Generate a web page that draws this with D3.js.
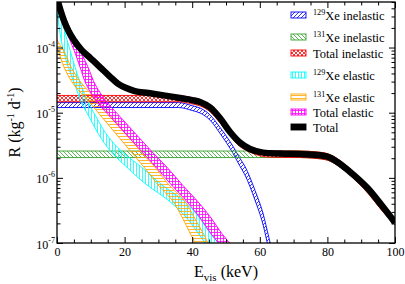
<!DOCTYPE html>
<html>
<head>
<meta charset="utf-8">
<script src="https://cdn.jsdelivr.net/npm/d3@7"></script>
<style>
body { margin: 0; background: #fff; }
text { font-family: "Liberation Serif", "Times New Roman", serif; fill: #000; }
</style>
</head>
<body>
<svg id="chart" width="405" height="284"></svg>
<script>
// ---- data (E in keV, rate in kg^-1 d^-1) ----

// 129Xe inelastic band
var inel129E  = [0, 36, 40, 42.3, 45.3, 48.2, 50.3, 52.1, 54, 55.6, 58.6, 61, 62.5, 64];
var inel129Lo = [1.20e-5, 1.20e-5, 1.08e-5, 9.9e-6, 7.67e-6, 4.84e-6, 3.35e-6, 2.36e-6, 1.55e-6, 1.11e-6, 4.52e-7, 1.88e-7, 8.61e-8, 3.98e-8];
var inel129Hi = [1.43e-5, 1.43e-5, 1.28e-5, 1.18e-5, 9.23e-6, 5.96e-6, 4.22e-6, 3.03e-6, 2.04e-6, 1.50e-6, 6.38e-7, 2.79e-7, 1.33e-7, 6.3e-8];

// 131Xe inelastic band
var inel131E  = [0, 72, 76, 80, 84, 88, 92, 96, 100];
var inel131Lo = [2.05e-6, 2.05e-6, 2.0e-6, 1.87e-6, 1.43e-6, 9.5e-7, 5.8e-7, 3.2e-7, 1.87e-7];
var inel131Hi = [2.58e-6, 2.58e-6, 2.52e-6, 2.35e-6, 1.8e-6, 1.2e-6, 7.3e-7, 4.05e-7, 2.36e-7];

// total inelastic band
var inelTotE  = [0, 36, 40, 42.3, 45.3, 48.2, 50.3, 52.1, 54, 55.6, 58.6, 61, 64, 72, 76, 80, 84, 88, 92, 96, 100];
var inelTotLo = [1.47e-5, 1.47e-5, 1.36e-5, 1.27e-5, 1.03e-5, 7.0e-6, 5.2e-6, 3.9e-6, 3.05e-6, 2.7e-6, 2.3e-6, 2.12e-6, 2.07e-6, 2.05e-6, 2.0e-6, 1.87e-6, 1.43e-6, 9.5e-7, 5.8e-7, 3.2e-7, 1.87e-7];
var inelTotHi = [1.84e-5, 1.84e-5, 1.70e-5, 1.59e-5, 1.29e-5, 9.0e-6, 6.4e-6, 4.8e-6, 3.75e-6, 3.3e-6, 2.75e-6, 2.6e-6, 2.58e-6, 2.58e-6, 2.52e-6, 2.35e-6, 1.8e-6, 1.2e-6, 7.3e-7, 4.05e-7, 2.36e-7];

// elastic bands: for each rate, the low and high edge energy
var el129Rate = [4.6e-4, 3.76e-4, 2.94e-4, 1.67e-4, 9.15e-5, 5.02e-5, 2.66e-5, 1.47e-5, 8.18e-6, 4.54e-6, 2.52e-6, 1.40e-6, 7.76e-7, 4.56e-7, 2.50e-7, 1.42e-7, 1.0e-7, 7.0e-8];
var el129Lo   = [-0.6, -0.1, 0.21, 0.89, 1.86, 3.34, 5.33, 7.10, 9.76, 12.43, 15.98, 21.01, 26.63, 32.84, 38.17, 41.72, 43.79, 45.27];
var el129Hi   = [0.0, 0.5, 1.18, 2.37, 3.85, 5.33, 7.10, 9.17, 11.83, 14.79, 19.23, 25.44, 31.07, 37.28, 42.01, 45.27, 47.63, 49.11];

var el131Rate = [1.35e-4, 1.09e-4, 9.15e-5, 5.02e-5, 2.66e-5, 1.47e-5, 8.18e-6, 4.54e-6, 2.52e-6, 1.40e-6, 7.76e-7, 4.56e-7, 2.50e-7, 1.42e-7, 1.0e-7, 7.0e-8];
var el131Lo   = [-1.2, -0.25, 0.3, 2.07, 5.03, 9.47, 13.61, 17.75, 21.89, 26.04, 29.88, 34.02, 36.98, 39.35, 40.83, 42.01];
var el131Hi   = [-0.1, 0.9, 1.9, 4.14, 7.69, 12.43, 16.57, 20.71, 24.85, 29.29, 33.14, 37.57, 40.53, 43.2, 44.67, 45.86];

var elTotRate = [5.5e-4, 4.04e-4, 2.94e-4, 1.67e-4, 9.15e-5, 5.02e-5, 2.66e-5, 1.47e-5, 8.18e-6, 4.54e-6, 2.52e-6, 1.40e-6, 7.76e-7, 4.56e-7, 2.50e-7, 1.42e-7, 1.0e-7, 7.0e-8];
var elTotLo   = [-0.6, 0.30, 1.48, 2.96, 5.03, 6.80, 8.73, 11.75, 16.18, 20.62, 25.15, 29.59, 33.88, 38.02, 42.16, 45.41, 47.78, 49.70];
var elTotHi   = [0.1, 1.18, 2.37, 4.44, 6.80, 9.17, 11.39, 14.70, 19.14, 23.58, 28.11, 32.84, 37.13, 41.27, 45.41, 48.67, 51.04, 52.96];

// total
var totE = [0, 1, 2, 3.4, 5, 7.3, 10, 12.7, 15.5, 18, 20.5, 23, 27, 32, 36.4, 40, 42.3, 45.3, 48.2, 51.2, 54.1, 57.1, 61, 66, 72, 76, 80, 84, 88, 92, 96, 100];
var totV = [5.75e-4, 3.77e-4, 2.64e-4, 1.79e-4, 1.30e-4, 9.15e-5, 6.78e-5, 5.02e-5, 3.65e-5, 2.80e-5, 2.39e-5, 2.15e-5, 2.00e-5, 1.83e-5, 1.68e-5, 1.56e-5, 1.46e-5, 1.20e-5, 8.28e-6, 5.05e-6, 3.48e-6, 2.77e-6, 2.44e-6, 2.36e-6, 2.32e-6, 2.26e-6, 2.12e-6, 1.60e-6, 1.08e-6, 6.85e-7, 3.82e-7, 2.06e-7];

var xMajor = [0, 20, 40, 60, 80, 100];
var xMinor = [5, 10, 15, 25, 30, 35, 45, 50, 55, 65, 70, 75, 85, 90, 95];
var yDecades = [1e-7, 1e-6, 1e-5, 1e-4];
var yExp = ["-7", "-6", "-5", "-4"];

var blue = "#0000ff", green = "#33a02c", red = "#ff0000",
    cyan = "#00ffff", orange = "#ffa500", magenta = "#ff00ff";

// ---- scales ----
var x = d3.scaleLinear().domain([0, 100]).range([57, 395]);
var y = d3.scaleLog().domain([1e-7, 5e-4]).range([243, 2]);

var svg = d3.select("#chart");
var defs = svg.append("defs");

defs.append("clipPath").attr("id", "plotClip")
	.append("rect").attr("x", 57).attr("y", 2).attr("width", 338).attr("height", 241);

function pattern(id, color, d, size) {
	defs.append("pattern")
	.attr("id", id)
	.attr("patternUnits", "userSpaceOnUse")
	.attr("width", size).attr("height", size)
	.append("path")
	.attr("d", d)
	.attr("fill", "none")
	.attr("stroke", color)
	.attr("stroke-width", 0.8);
}
pattern("p129in", blue, "M-1,1L1,-1M0,4L4,0M3,5L5,3", 4);
pattern("p131in", green, "M-1,3L1,5M0,0L4,4M3,-1L5,1", 4);
pattern("pTotIn", red, "M-1,1L1,-1M0,4L4,0M3,5L5,3M-1,3L1,5M0,0L4,4M3,-1L5,1", 4);
pattern("p129el", cyan, "M1.5,0V3", 3);
pattern("p131el", orange, "M0,1.5H3", 3);
pattern("pTotEl", magenta, "M1.5,0V3M0,1.5H3", 3);

var plot = svg.append("g").attr("clip-path", "url(#plotClip)");

// band with low/high rate at each energy
function vband(E, lo, hi, color, pat) {
	var rows = E.map(function(e, i) { return {e: e, lo: lo[i], hi: hi[i]}; });
	var area = d3.area()
		.x(function(d) { return x(d.e); })
		.y0(function(d) { return y(d.lo); })
		.y1(function(d) { return y(d.hi); })
		.curve(d3.curveMonotoneX);
	plot.append("path").attr("d", area(rows)).attr("fill", "url(#" + pat + ")");
	["lo", "hi"].forEach(function(k) {
		var line = d3.line()
			.x(function(d) { return x(d.e); })
			.y(function(d) { return y(d[k]); })
			.curve(d3.curveMonotoneX);
		plot.append("path").attr("d", line(rows))
		.attr("fill", "none").attr("stroke", color).attr("stroke-width", 0.9);
	});
}

// band with low/high energy at each rate
function hband(rate, lo, hi, color, pat) {
	var rows = rate.map(function(r, i) { return {r: r, lo: lo[i], hi: hi[i]}; });
	var area = d3.area()
		.x0(function(d) { return x(d.lo); })
		.x1(function(d) { return x(d.hi); })
		.y(function(d) { return y(d.r); })
		.curve(d3.curveMonotoneY);
	plot.append("path").attr("d", area(rows)).attr("fill", "url(#" + pat + ")");
	["lo", "hi"].forEach(function(k) {
		var line = d3.line()
			.x(function(d) { return x(d[k]); })
			.y(function(d) { return y(d.r); })
			.curve(d3.curveMonotoneY);
		plot.append("path").attr("d", line(rows))
		.attr("fill", "none").attr("stroke", color).attr("stroke-width", 0.9);
	});
}

vband(inel129E, inel129Lo, inel129Hi, blue, "p129in");
vband(inel131E, inel131Lo, inel131Hi, green, "p131in");
vband(inelTotE, inelTotLo, inelTotHi, red, "pTotIn");
hband(el129Rate, el129Lo, el129Hi, cyan, "p129el");
hband(el131Rate, el131Lo, el131Hi, orange, "p131el");
hband(elTotRate, elTotLo, elTotHi, magenta, "pTotEl");

var totLine = d3.line()
	.x(function(d, i) { return x(totE[i]); })
	.y(function(d) { return y(d); })
	.curve(d3.curveMonotoneX);
plot.append("path").attr("d", totLine(totV))
	.attr("fill", "none").attr("stroke", "#000")
	.attr("stroke-width", 6.5).attr("stroke-linejoin", "round");

// ---- axes (ticks inward on all sides) ----
var yMinor = [];
yDecades.forEach(function(dec) {
	for (var m = 2; m <= 9; m++) { if (dec * m <= 5e-4) yMinor.push(dec * m); }
});

function addAxis(gen, tr) {
	var g = svg.append("g").attr("transform", tr).call(gen);
	g.select(".domain").remove();
	g.selectAll("line").attr("stroke", "#000").attr("stroke-width", 1);
	return g;
}
var xb = addAxis(d3.axisBottom(x).tickValues(xMajor).tickSize(-6).tickPadding(4), "translate(0,243)");
xb.selectAll("text").attr("font-size", 12).attr("font-family", "Liberation Serif, serif").attr("fill", "#000");
addAxis(d3.axisBottom(x).tickValues(xMinor).tickSize(-3.5).tickFormat(""), "translate(0,243)");
addAxis(d3.axisTop(x).tickValues(xMajor).tickSize(-6).tickFormat(""), "translate(0,2)");
addAxis(d3.axisTop(x).tickValues(xMinor).tickSize(-3.5).tickFormat(""), "translate(0,2)");
addAxis(d3.axisLeft(y).tickValues(yDecades).tickSize(-6).tickFormat(""), "translate(57,0)");
addAxis(d3.axisLeft(y).tickValues(yMinor).tickSize(-3.5).tickFormat(""), "translate(57,0)");
addAxis(d3.axisRight(y).tickValues(yDecades).tickSize(-6).tickFormat(""), "translate(395,0)");
addAxis(d3.axisRight(y).tickValues(yMinor).tickSize(-3.5).tickFormat(""), "translate(395,0)");

svg.append("rect")
	.attr("x", 57).attr("y", 2).attr("width", 338).attr("height", 241)
	.attr("fill", "none").attr("stroke", "#000").attr("stroke-width", 1.3);

// y tick labels 10^n
yDecades.forEach(function(v, i) {
	var t = svg.append("text")
		.attr("x", 55).attr("y", y(v) + 5.5)
		.attr("text-anchor", "end").attr("font-size", 12);
	t.append("tspan").text("10");
	t.append("tspan").attr("font-size", 8).attr("dy", -6).text(yExp[i]);
});

// axis titles
var yl = svg.append("text")
	.attr("transform", "translate(20,122.5) rotate(-90)")
	.attr("text-anchor", "middle").attr("font-size", 16);
yl.append("tspan").text("R (kg");
yl.append("tspan").attr("font-size", 10).attr("dy", -6).text("-1");
yl.append("tspan").attr("dy", 6).text(" d");
yl.append("tspan").attr("font-size", 10).attr("dy", -6).text("-1");
yl.append("tspan").attr("dy", 6).text(")");

var xl = svg.append("text")
	.attr("x", 226).attr("y", 277)
	.attr("text-anchor", "middle").attr("font-size", 16);
xl.append("tspan").text("E");
xl.append("tspan").attr("font-size", 11).attr("dy", 4).text("vis");
xl.append("tspan").attr("dy", -4).text(" (keV)");

// ---- legend ----
var legendItems = [
	{sup: "129", text: "Xe inelastic", color: blue, fill: "url(#p129in)"},
	{sup: "131", text: "Xe inelastic", color: green, fill: "url(#p131in)"},
	{sup: "", text: "Total inelastic", color: red, fill: "url(#pTotIn)"},
	{sup: "129", text: "Xe elastic", color: cyan, fill: "url(#p129el)"},
	{sup: "131", text: "Xe elastic", color: orange, fill: "url(#p131el)"},
	{sup: "", text: "Total elastic", color: magenta, fill: "url(#pTotEl)"},
	{sup: "", text: "Total", color: "#000", fill: "#000"}
];
var legendY = [15, 37, 53, 75, 97, 112, 127];

var legend = svg.append("g").attr("class", "legend")
	.selectAll("g")
	.data(legendItems)
	.enter()
	.append("g")
	.attr("transform", function(d, i) { return "translate(0," + legendY[i] + ")"; });

legend.append("rect")
	.attr("x", 291).attr("y", -3).attr("width", 15).attr("height", 6)
	.attr("fill", function(d) { return d.fill; })
	.attr("stroke", function(d) { return d.color; })
	.attr("stroke-width", 0.9);

legend.each(function(d) {
	var t = d3.select(this).append("text")
		.attr("x", 313).attr("y", 4.5).attr("font-size", 12.5);
	if (d.sup) {
		t.append("tspan").attr("font-size", 8.2).attr("dy", -5).text(d.sup);
		t.append("tspan").attr("dy", 5).text(d.text);
	} else {
		t.append("tspan").text(d.text);
	}
});
</script>
</body>
</html>
